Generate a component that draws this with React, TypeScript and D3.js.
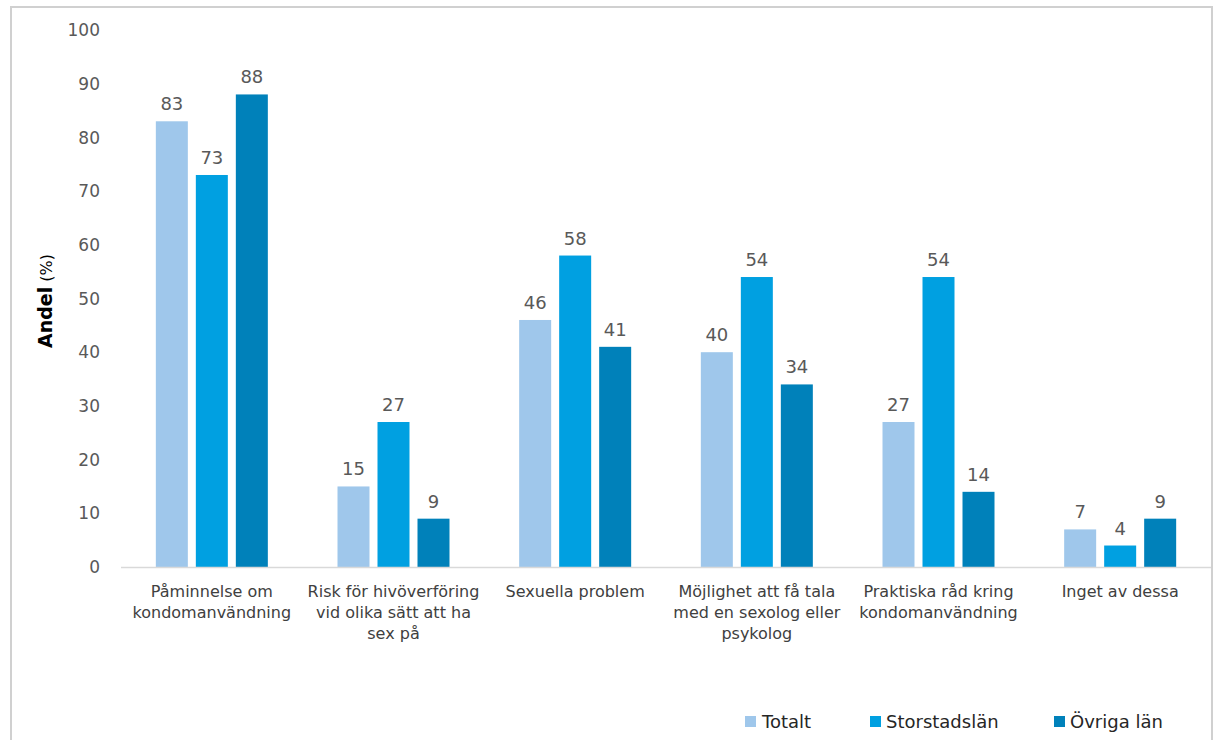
import React from "react";
import * as d3 from "d3";

const categories: string[][] = [
  ["Påminnelse om", "kondomanvändning"],
  ["Risk för hivöverföring", "vid olika sätt att ha", "sex på"],
  ["Sexuella problem"],
  ["Möjlighet att få tala", "med en sexolog eller", "psykolog"],
  ["Praktiska råd kring", "kondomanvändning"],
  ["Inget av dessa"],
];
const seriesNames = ["Totalt", "Storstadslän", "Övriga län"];
const totalt = [83, 15, 46, 40, 27, 7];
const storstad = [73, 27, 58, 54, 54, 4];
const ovriga = [88, 9, 41, 34, 14, 9];
const seriesValues = [totalt, storstad, ovriga];
const colors = ["#9FC7EB", "#00A0E1", "#0081BA"];
const yTicks = [0, 10, 20, 30, 40, 50, 60, 70, 80, 90, 100];

const W = 1219;
const H = 740;
const FONT = "'DejaVu Sans', Verdana, sans-serif";

export default function App() {
  const catIdx = categories.map((_, i) => String(i));
  const x0 = d3.scaleBand<string>().domain(catIdx).range([121, 1211]).padding(0);
  const groupW = 112;
  const off = (x0.bandwidth() - groupW) / 2;
  const x1 = d3
    .scaleBand<string>()
    .domain(seriesNames)
    .range([off, off + groupW])
    .paddingInner(0.2)
    .paddingOuter(0);
  const y = d3.scaleLinear().domain([0, 100]).range([567, 30]);

  const legendPos = [
    { sq: 745, tx: 762 },
    { sq: 870, tx: 886 },
    { sq: 1054, tx: 1070 },
  ];

  return (
    <div style={{ position: "absolute", left: 0, top: 0 }}>
      <svg width={W} height={H} style={{ display: "block", fontFamily: FONT }}>
        <rect x={0} y={0} width={W} height={H} fill="#ffffff" />
        <rect
          x={11}
          y={7}
          width={1201}
          height={800}
          fill="#ffffff"
          stroke="#d0d0d0"
          strokeWidth={2}
        />
        {/* y tick labels */}
        {yTicks.map((t) => (
          <text
            key={t}
            x={100}
            y={y(t)}
            dy="0.36em"
            textAnchor="end"
            fontSize={17}
            fill="#595959"
          >
            {t}
          </text>
        ))}
        {/* axis title */}
        <text
          transform={`translate(52, 301) rotate(-90)`}
          textAnchor="middle"
          fill="#000000"
        >
          <tspan fontWeight="bold" fontSize={19}>
            Andel
          </tspan>
          <tspan fontSize={16}> (%)</tspan>
        </text>
        {/* bars */}
        {catIdx.map((c, ci) => (
          <g key={c} transform={`translate(${x0(c)},0)`}>
            {seriesNames.map((s, si) => {
              const v = seriesValues[si][ci];
              const bx = x1(s)!;
              const bw = x1.bandwidth();
              return (
                <g key={s}>
                  <rect
                    x={bx}
                    y={y(v)}
                    width={bw}
                    height={y(0) - y(v)}
                    fill={colors[si]}
                  />
                  <text
                    x={bx + bw / 2}
                    y={y(v) - 11}
                    textAnchor="middle"
                    fontSize={18}
                    fill="#595959"
                  >
                    {v}
                  </text>
                </g>
              );
            })}
          </g>
        ))}
        {/* x axis line */}
        <line x1={121} x2={1211} y1={567.5} y2={567.5} stroke="#d9d9d9" strokeWidth={1.5} />
        {/* category labels */}
        {categories.map((lines, ci) => (
          <text
            key={ci}
            x={x0(String(ci))! + x0.bandwidth() / 2}
            y={597}
            textAnchor="middle"
            fontSize={16}
            fill="#404040"
          >
            {lines.map((l, li) => (
              <tspan key={li} x={x0(String(ci))! + x0.bandwidth() / 2} dy={li === 0 ? 0 : 21}>
                {l}
              </tspan>
            ))}
          </text>
        ))}
        {/* legend */}
        {seriesNames.map((s, si) => (
          <g key={s}>
            <rect x={legendPos[si].sq} y={716} width={11} height={11} fill={colors[si]} />
            <text x={legendPos[si].tx} y={728} fontSize={18} fill="#262626">
              {s}
            </text>
          </g>
        ))}
      </svg>
    </div>
  );
}
